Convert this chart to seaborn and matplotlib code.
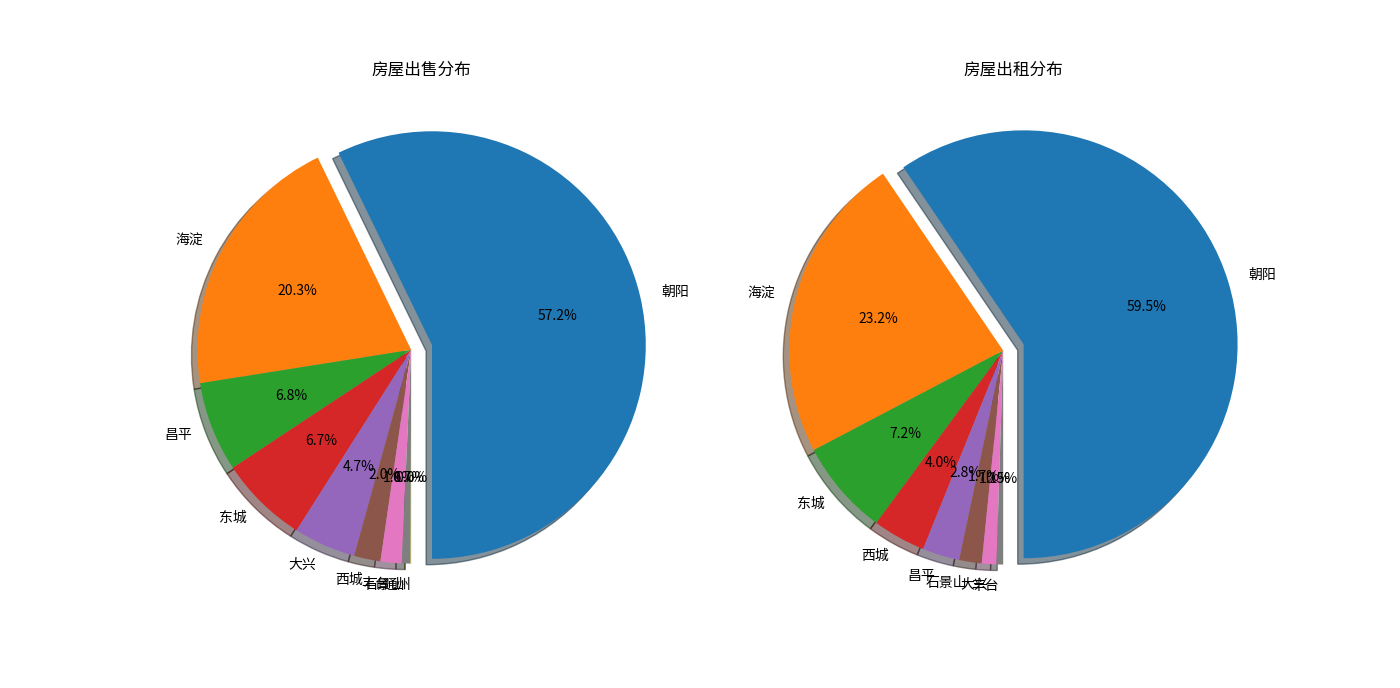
import matplotlib
matplotlib.use("Agg")
import matplotlib.pyplot as plt
import seaborn as sns

# 出售 (sale) distribution, percent by district
sale_districts = ["朝阳", "海淀", "昌平", "东城", "大兴", "西城", "丰台", "石景山", "通州"]
sale_share = [57.2, 20.3, 6.8, 6.7, 4.7, 2.0, 1.6, 0.66, 0.04]

# 出租 (rent) distribution, percent by district
rent_districts = ["朝阳", "海淀", "东城", "西城", "昌平", "石景山", "大兴", "丰台"]
rent_share = [59.5, 23.2, 7.2, 4.0, 2.8, 1.7, 1.1, 0.5]

plt.rcParams["font.family"] = ["Noto Sans CJK SC", "DejaVu Sans"]
plt.rcParams["axes.unicode_minus"] = False

colors = sns.color_palette("tab10")

fig, axes = plt.subplots(1, 2, figsize=(14, 6.88), dpi=100)

for ax, names, vals, title in [
    (axes[0], sale_districts, sale_share, "房屋出售分布"),
    (axes[1], rent_districts, rent_share, "房屋出租分布"),
]:
    explode = [0.1] + [0] * (len(vals) - 1)
    ax.pie(
        vals,
        labels=names,
        explode=explode,
        autopct="%1.1f%%",
        shadow=True,
        startangle=-90,
        colors=colors[: len(vals)],
    )
    # old-style layout: limits from the wedges, then equal aspect
    ax.relim()
    ax.autoscale(True)
    ax.axis("equal")
    ax.set_title(title)

fig.savefig("out.png", dpi=100)
